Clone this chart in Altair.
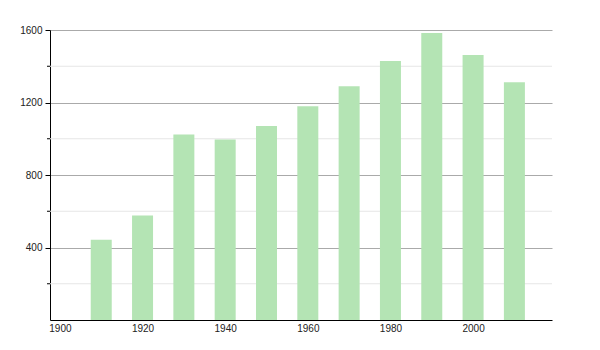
import altair as alt
import pandas as pd

years = [1910, 1920, 1930, 1940, 1950, 1960, 1970, 1980, 1990, 2000, 2010]
values = [443, 577, 1024, 996, 1070, 1179, 1290, 1429, 1584, 1462, 1312]
major_ticks = [400, 800, 1200, 1600]
minor_ticks = [200, 600, 1000, 1400]
x_labels = [1900, 1920, 1940, 1960, 1980, 2000]

W, H = 502, 290

df = pd.DataFrame({"year": years, "value": values})
minor_df = pd.DataFrame({"v": minor_ticks})

xscale = alt.Scale(domain=[1897.6, 2019.1], nice=False, zero=False, padding=0)
yscale = alt.Scale(domain=[0, 1600], nice=False, padding=0)

yaxis = alt.Axis(
    values=major_ticks, grid=True, gridColor="#aaaaaa", gridWidth=1,
    tickSize=5, tickColor="#000000", domainColor="#000000",
    labelFontSize=10, labelFont="Liberation Sans", labelColor="#222222",
    labelPadding=3, title=None, format="d",
)
xaxis = alt.Axis(
    values=x_labels, grid=False, ticks=False, domainColor="#000000",
    labelFontSize=10, labelFont="Liberation Sans", labelColor="#222222",
    labelPadding=3, title=None, format="d",
)

minor_grid = alt.Chart(minor_df).mark_rule(color="#e6e6e6", strokeWidth=1).encode(
    y=alt.Y("v:Q", scale=yscale, axis=yaxis),
    x=alt.value(0), x2=alt.value(W),
)

minor_tick = alt.Chart(minor_df).mark_rule(color="#000000", strokeWidth=1).encode(
    y=alt.Y("v:Q", scale=yscale),
    x=alt.value(-3), x2=alt.value(0),
)

bars = alt.Chart(df).mark_bar(size=21, color="#b4e4b4").encode(
    x=alt.X("year:Q", scale=xscale, axis=xaxis),
    y=alt.Y("value:Q", scale=yscale),
)

chart = alt.layer(minor_grid, bars, minor_tick).properties(
    width=W, height=H,
    autosize=alt.AutoSizeParams(type="none"),
    padding={"left": 50, "top": 30, "right": 48, "bottom": 30},
    background="#ffffff",
).configure_view(stroke=None)

chart.save("out.html", embed_options={"renderer": "svg", "actions": False})
